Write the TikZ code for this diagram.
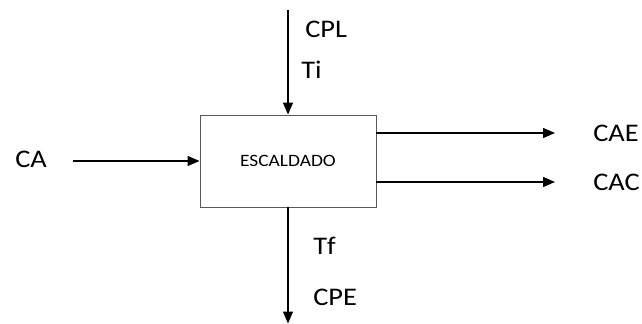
\documentclass[tikz,border=0pt]{standalone}
\usepackage{fontspec}
\setmainfont{Carlito}[FakeStretch=1.12]
\usepackage{tikz}
\usetikzlibrary{arrows.meta, positioning}

\begin{document}
\begin{tikzpicture}[
  x=0.75pt, y=-0.75pt,
  >=Stealth,
  process/.style={
    rectangle, draw=gray!70!black, line width=0.7pt,
    minimum width=132pt, minimum height=69pt, inner sep=0pt,
    font=\fontsize{13}{15}\selectfont
  },
  flowlbl/.style={font=\fontsize{19}{22}\selectfont, anchor=west, inner sep=0pt},
  flow/.style={-{Triangle[length=9pt, width=7.5pt]}, line width=1pt},
]

\useasboundingbox (0,0) rectangle (642,324);

\def\colX{288}
\def\rIn{161}
\def\rE{133}
\def\rC{182}

% Process block
\node[process] (esc) at (\colX, \rIn) {ESCALDADO};

% Free ends of the streams
\coordinate (inTop)  at (\colX, 10);
\coordinate (outBot) at (\colX, 323.5);
\coordinate (inLeft) at (73, \rIn);
\coordinate (outE)   at (555, \rE);
\coordinate (outC)   at (555, \rC);

% 1. Steam in from the top
\draw[flow] (inTop) -- (esc.north);
\node[flowlbl] (cpl) at (305, 29) {CPL};
\node[flowlbl] (ti)  at (301, 70) {Ti};

% 2. Raw feed from the left
\draw[flow] (inLeft) -- (esc.west);
\node[flowlbl] (ca) at (15, 159) {CA};

% 3. Products to the right
\draw[flow] (esc.east |- outE) -- (outE);
\draw[flow] (esc.east |- outC) -- (outC);
\node[flowlbl] (cae) at (593, \rE) {CAE};
\node[flowlbl] (cac) at (593, \rC) {CAC};

% 4. Spent stream out at the bottom
\draw[flow] (esc.south) -- (outBot);
\node[flowlbl] (tf)  at (313, 246) {Tf};
\node[flowlbl] (cpe) at (313, 297) {CPE};

\end{tikzpicture}
\end{document}
